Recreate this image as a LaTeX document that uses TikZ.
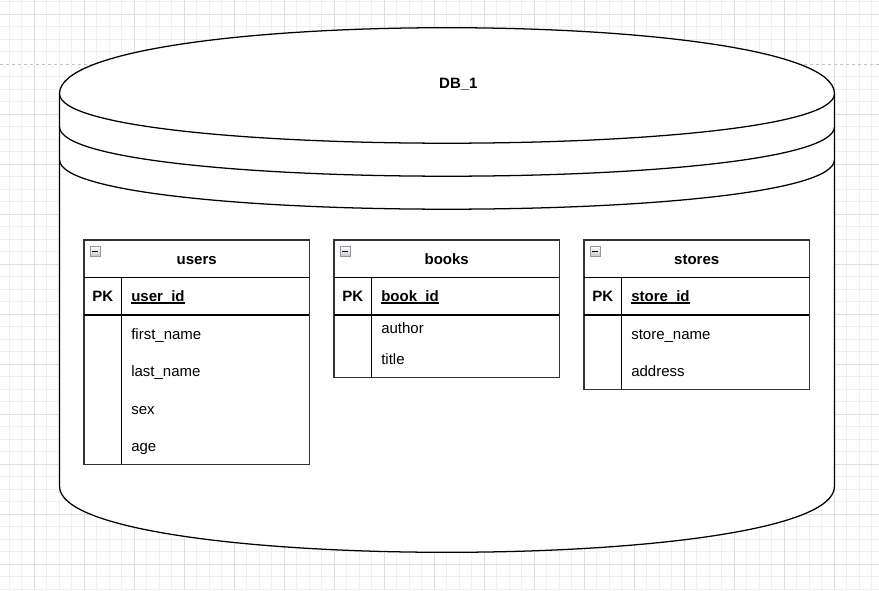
\documentclass[tikz,border=0pt]{standalone}
\usepackage{fontspec}
\setmainfont{Liberation Sans}
\definecolor{gridminor}{HTML}{F0F0F0}
\definecolor{gridmajor}{HTML}{DEDEDE}
\definecolor{pagebreak}{HTML}{C4C4C4}
\definecolor{iconedge}{HTML}{8E97AB}
\newcommand\pkul[1]{\setbox0\hbox{#1}\rlap{\vrule height -1.0pt depth 1.9pt width \wd0}\box0}
\tikzset{
  minorline/.style={draw=gridminor, line width=0.75pt},
  majorline/.style={draw=gridmajor, line width=0.75pt},
  dbshape/.style={draw=black, fill=white, line width=0.95pt},
  dbarc/.style={draw=black, line width=0.95pt},
  tblframe/.style={draw=black!80, fill=white, line width=0.95pt},
  tblline/.style={draw=black, line width=0.95pt},
  iconbox/.style={draw=iconedge, line width=0.6pt, top color=white, bottom color=black!22, minimum size=7.9pt, inner sep=0pt},
  hdr/.style={font=\fontsize{11.25}{13.5}\selectfont\bfseries, anchor=base, inner sep=0pt},
  pklabel/.style={font=\fontsize{11.25}{13.5}\selectfont\bfseries, anchor=base, inner sep=0pt},
  pkfield/.style={font=\fontsize{11.25}{13.5}\selectfont\bfseries, anchor=base west, inner sep=0pt},
  fld/.style={font=\fontsize{11.25}{13.5}\selectfont, anchor=base west, inner sep=0pt},
}
% #1 left x, #2 bottom y, #3 id, #4 title, #5 key field
\newcommand\ertable[5]{%
  \draw[tblframe] (#1,240) rectangle (#1+225.3,#2);
  \draw[tblline] (#1,277.7) -- (#1+225.3,277.7);
  \draw[tblline] (#1,315) -- (#1+225.3,315);
  \draw[tblline] (#1+37.7,277.7) -- (#1+37.7,#2);
  \node[iconbox] (#3-icon) at (#1+11.3,251.3) {};
  \draw[line width=1.1pt] ([xshift=-2.2pt]#3-icon.center) -- ([xshift=2.2pt]#3-icon.center);
  \node[hdr] (#3-title) at (#1+112.7,264.5) {#4};
  \node[pklabel] (#3-pk) at (#1+18.8,301) {PK};
  \node[pkfield] (#3-key) at (#1+47,301) {\pkul{#5}};
}
\begin{document}
\begin{tikzpicture}[x=0.75pt,y=-0.75pt]
\useasboundingbox (0,0) rectangle (879,590);
\fill[white] (0,0) rectangle (879,590);
% grid
\foreach \i in {0,...,69} \draw[minorline] ({9.3+12.5*\i},0) -- ({9.3+12.5*\i},590);
\foreach \i in {0,...,47} \draw[minorline] (0,{1.8+12.5*\i}) -- (879,{1.8+12.5*\i});
\foreach \i in {0,...,16} \draw[majorline] ({34.3+50*\i},0) -- ({34.3+50*\i},590);
\foreach \i in {0,...,11} \draw[majorline] (0,{14.3+50*\i}) -- (879,{14.3+50*\i});
\draw[white, line width=0.75pt] (0,64.8) -- (879,64.8);
\draw[pagebreak, line width=0.75pt, dash pattern=on 2.4pt off 2.1pt] (0,64.8) -- (879,64.8);
% database cylinder
\draw[dbshape] (59.5,93.7) .. controls (59.5,5.7) and (834.5,5.7) .. (834.5,93.7)
  -- (834.5,486.3) .. controls (834.5,574.3) and (59.5,574.3) .. (59.5,486.3) -- cycle;
\draw[dbarc] (59.5,93.7) .. controls (59.5,159.7) and (834.5,159.7) .. (834.5,93.7);
\draw[dbarc] (59.5,126.7) .. controls (59.5,192.7) and (834.5,192.7) .. (834.5,126.7);
\draw[dbarc] (59.5,159.7) .. controls (59.5,225.7) and (834.5,225.7) .. (834.5,159.7);
\node[hdr] (db) at (458.4,88) {DB\_1};
% tables
\ertable{84}{464.3}{users}{users}{user\_id}
\node[fld] (users-f1) at (131,339.3) {first\_name};
\node[fld] (users-f2) at (131,376.8) {last\_name};
\node[fld] (users-f3) at (131,414.3) {sex};
\node[fld] (users-f4) at (131,451.8) {age};
\ertable{334}{377.7}{books}{books}{book\_id}
\node[fld] (books-f1) at (381,333.5) {author};
\node[fld] (books-f2) at (381,364) {title};
\ertable{584}{389.3}{stores}{stores}{store\_id}
\node[fld] (stores-f1) at (631,339.3) {store\_name};
\node[fld] (stores-f2) at (631,376.8) {address};
\end{tikzpicture}
\end{document}
